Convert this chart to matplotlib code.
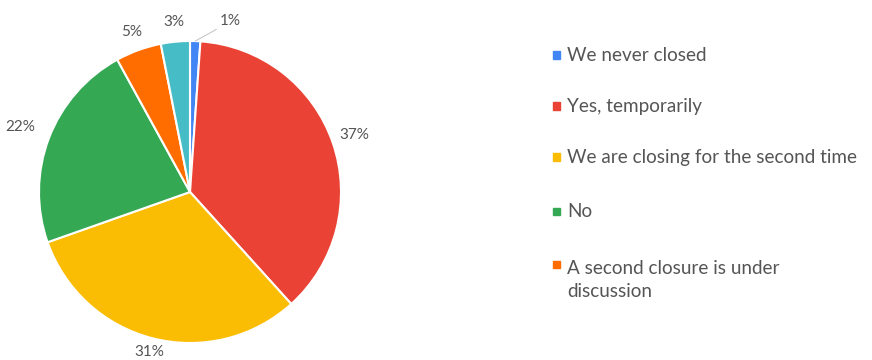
import numpy as np
import matplotlib
matplotlib.use("Agg")
import matplotlib.pyplot as plt
from matplotlib.patches import Rectangle

plt.rcParams["font.family"] = ["Lato", "DejaVu Sans"]

# slices, clockwise from 12 o'clock
categories = ["We never closed", "Yes, temporarily", "We are closing for the second time",
              "No", "A second closure is under\ndiscussion", "Other"]
values = [1.1, 37.2, 31.3, 22.4, 4.9, 3.1]
colors = ["#4285F4", "#EA4335", "#FBBC04", "#34A853", "#FF6D01", "#46BDC6"]
legend_count = 5  # last slice has no legend entry

TXT = "#555555"
W, H = 872, 360
LEG_FS = 13.6
LINE_PX = 1.42 * LEG_FS * 100 / 72  # pixel step between wrapped lines

fig = plt.figure(figsize=(W / 100, H / 100), dpi=100)
# pie: centre (190, 192) px, radius 151 px
ax = fig.add_axes([(190 - 151) / W, (H - 192 - 151) / H, 302 / W, 302 / H])

wedges, _, pct = ax.pie(values, colors=colors, startangle=90, counterclock=False,
                        autopct="%.0f%%", pctdistance=1.13,
                        wedgeprops=dict(edgecolor="white", linewidth=1.5),
                        textprops=dict(color=TXT, fontsize=11))
ax.set_xlim(-1, 1)
ax.set_ylim(-1, 1)
ax.set_aspect("equal")
ax.axis("off")

def mid(w):
    return np.deg2rad((w.theta1 + w.theta2) / 2)

# nudge a few labels, like the original
for i, r in [(2, 1.09), (3, 1.2), (1, 1.15)]:
    a = mid(wedges[i])
    pct[i].set_position((r * np.cos(a), r * np.sin(a)))

# small slice: label pulled out with a leader line
a = mid(wedges[0])
pct[0].set_visible(False)
ax.annotate(pct[0].get_text(), xy=(np.cos(a), np.sin(a)), xytext=(0.27, 1.13),
            ha="center", va="center", color=TXT, fontsize=11, annotation_clip=False,
            arrowprops=dict(arrowstyle="-", color="#c8c8c8", lw=0.8,
                            shrinkA=1, shrinkB=0))

# legend, drawn by hand to match the spaced-out layout
row_y = [55, 106, 157, 211, 264]
for lab, col, y in zip(categories[:legend_count], colors[:legend_count], row_y):
    fig.patches.append(Rectangle((553 / W, (H - y - 3.5) / H), 7 / W, 7 / H,
                                 transform=fig.transFigure, color=col))
    # baseline is that of the last line, so push wrapped labels down
    base = y + 6 + LINE_PX * lab.count("\n")
    fig.text(567 / W, (H - base) / H, lab, ha="left", va="baseline",
             color=TXT, fontsize=LEG_FS, linespacing=1.42)

fig.savefig("out.png", dpi=100)
